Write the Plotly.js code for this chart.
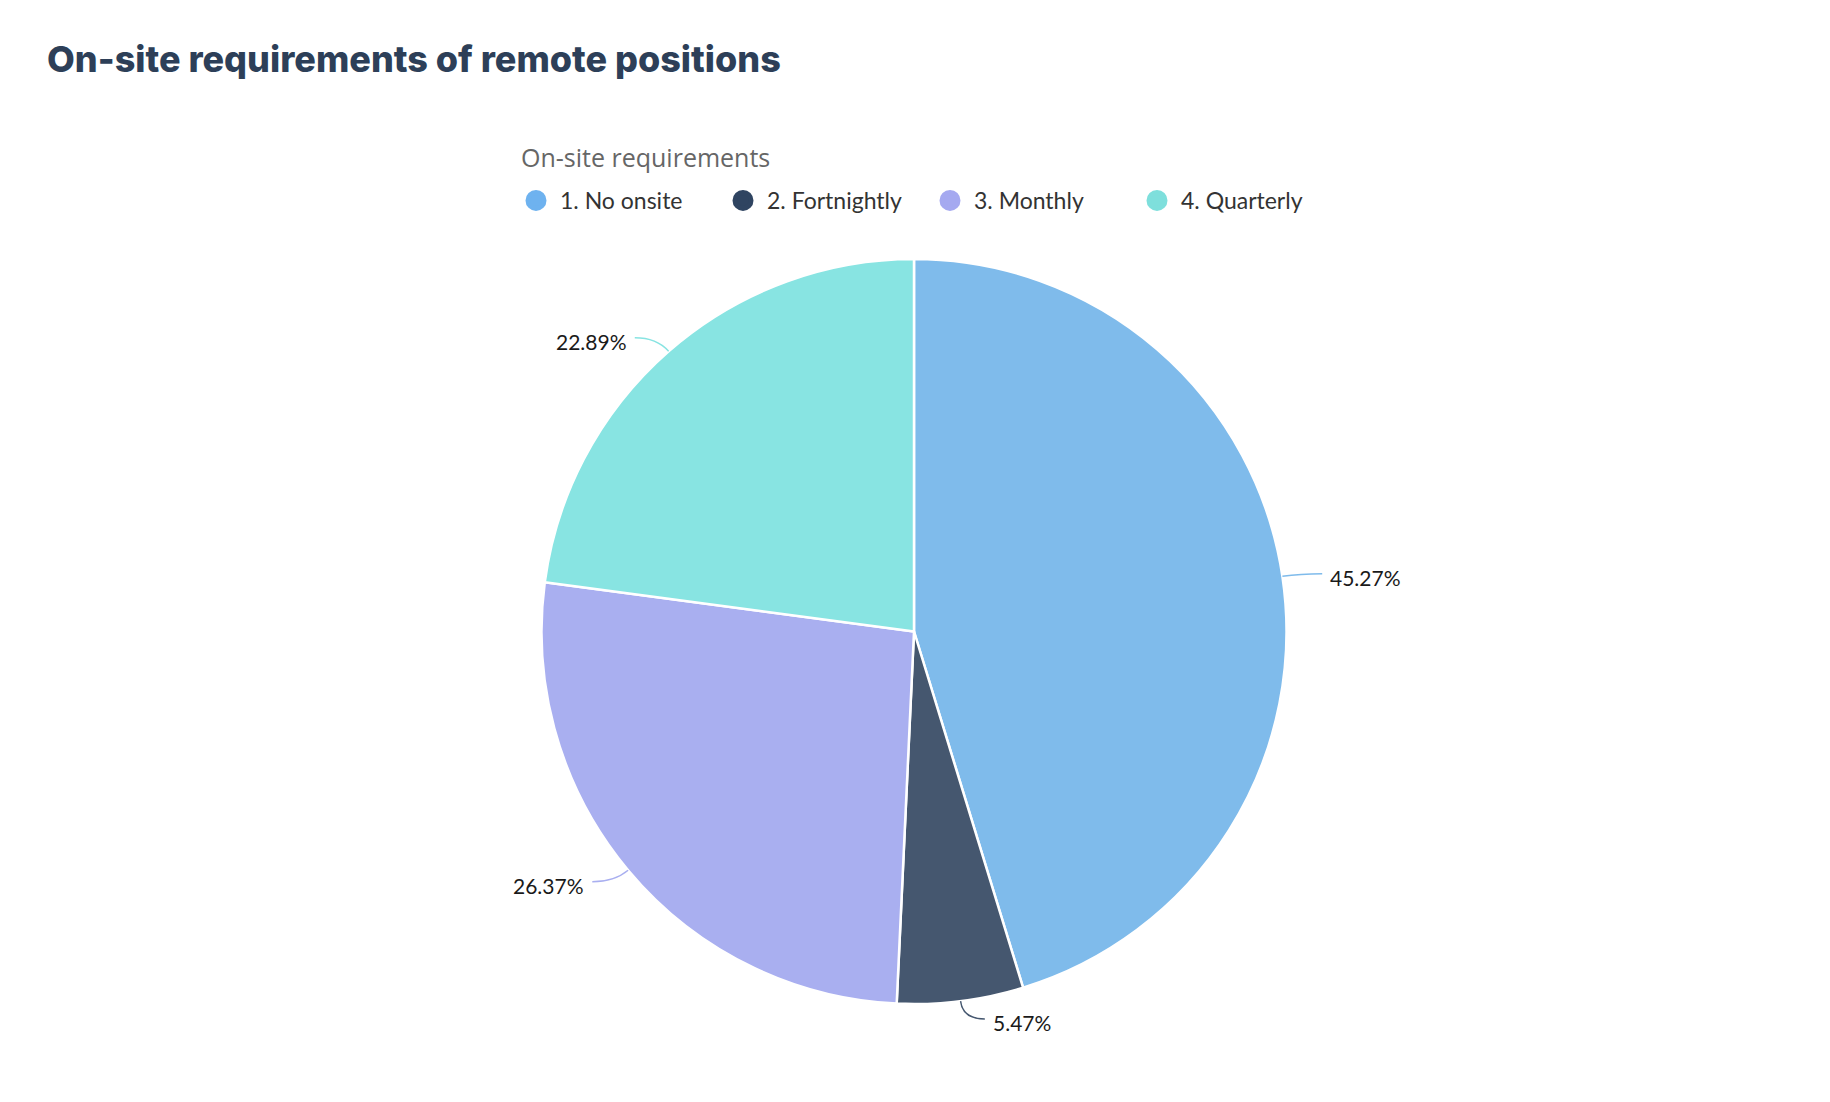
<!DOCTYPE html>
<html>
<head>
<meta charset="utf-8">
<script src="https://cdn.plot.ly/plotly-3.0.1.min.js"></script>
<style>
    body { margin: 0; background: #fff; }
</style>
</head>
<body>
<div id="chart" style="width:1830px;height:1102px"></div>
<script>
// data
var categories = ['1. No onsite', '2. Fortnightly', '3. Monthly', '4. Quarterly'];
var shares = [45.27, 5.47, 26.37, 22.89];
var sliceColors = ['#7fbbeb', '#45576f', '#a9aff0', '#88e4e2'];
var legendColors = ['#6eb2ef', '#2f4461', '#a5a9f0', '#7edfdc'];
var legendTitle = 'On-site requirements';

var W = 1830, H = 1102;
// pie placement in px
var cx = 914, cy = 631.5, r = 372.5;
var L1 = 18, L2 = 22, textGap = 6, textDrop = 4;

function px(x) { return x / W; }
function py(y) { return 1 - y / H; }

var pie = {
    type: 'pie',
    labels: categories,
    values: shares,
    sort: false,
    direction: 'clockwise',
    rotation: 0,
    textinfo: 'none',
    hoverinfo: 'label+percent',
    showlegend: false,
    marker: { colors: sliceColors, line: { color: '#ffffff', width: 2.5 } },
    domain: { x: [px(cx - r), px(cx + r)], y: [py(cy + r), py(cy - r)] }
};

// scatter stand-ins so the legend gets round markers
var legendTraces = categories.map(function (name, i) {
    return {
        type: 'scatter',
        mode: 'markers',
        x: [null],
        y: [null],
        name: name,
        hoverinfo: 'skip',
        marker: { color: legendColors[i], size: 16, line: { color: legendColors[i], width: 5 } }
    };
});

// outside labels with curved leader lines, placed from the slice mid angles
var total = shares.reduce(function (a, b) { return a + b; }, 0);
var shapes = [];
var annotations = [];
var acc = 0;
shares.forEach(function (v, i) {
    var mid = (acc + v / 2) / total * 2 * Math.PI;
    acc += v;
    var dx = Math.sin(mid), dy = -Math.cos(mid);
    var side = dx >= 0 ? 1 : -1;
    var x0 = cx + r * dx, y0 = cy + r * dy;
    var x1 = cx + (r + L1) * dx, y1 = cy + (r + L1) * dy;
    var x2 = x1 + side * L2, y2 = y1;
    shapes.push({
        type: 'path',
        xref: 'paper', yref: 'paper',
        path: 'M' + px(x0) + ',' + py(y0) + ' Q' + px(x1) + ',' + py(y1) + ' ' + px(x2) + ',' + py(y2),
        line: { color: sliceColors[i], width: 1.5 }
    });
    annotations.push({
        xref: 'paper', yref: 'paper',
        x: px(x2 + side * textGap), y: py(y2 + textDrop),
        xanchor: side > 0 ? 'left' : 'right', yanchor: 'middle',
        text: (v / total * 100).toFixed(2) + '%',
        showarrow: false,
        font: { family: 'Lato, sans-serif', size: 21, color: '#1a1a1a' }
    });
});

// legend heading
annotations.push({
    xref: 'paper', yref: 'paper',
    x: px(519), y: py(157),
    xanchor: 'left', yanchor: 'middle',
    text: legendTitle,
    showarrow: false,
    font: { family: 'Open Sans, sans-serif', size: 25, color: '#666666' }
});

var layout = {
    width: W,
    height: H,
    margin: { l: 0, r: 0, t: 0, b: 0 },
    paper_bgcolor: '#ffffff',
    plot_bgcolor: '#ffffff',
    title: {
        text: 'On-site requirements of remote positions',
        x: px(47), xref: 'container', xanchor: 'left',
        y: 1 - 59 / H, yref: 'container', yanchor: 'middle',
        font: { family: 'Inter, sans-serif', size: 36, weight: 800, color: '#2d3f58' }
    },
    xaxis: { visible: false },
    yaxis: { visible: false },
    showlegend: true,
    legend: {
        orientation: 'h',
        x: px(512), xanchor: 'left',
        y: py(179), yanchor: 'top',
        font: { family: 'Lato, sans-serif', size: 23, color: '#333333' },
        itemwidth: 38,
        entrywidth: 154,
        itemclick: false
    },
    shapes: shapes,
    annotations: annotations
};

Plotly.newPlot('chart', [pie].concat(legendTraces), layout, { displayModeBar: false });
</script>
</body>
</html>
